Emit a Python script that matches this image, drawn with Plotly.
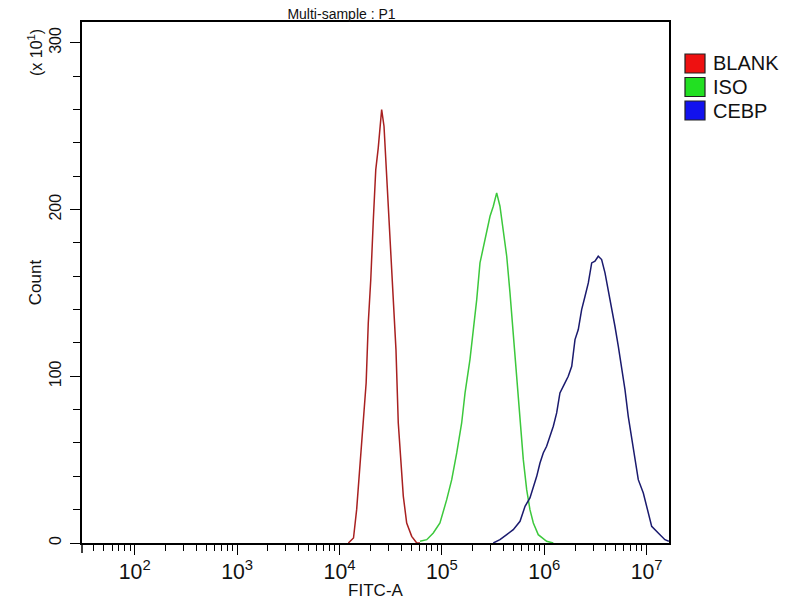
import plotly.graph_objects as go

# ---- data (FITC-A value, count in units of x10) ----
BLANK_X = [12200, 13700, 14700, 15900, 17100, 18200, 19100, 20200, 21400, 22600,
           23900, 24900, 25800, 27200, 28200, 30000, 31600, 33500, 35600, 37500,
           39600, 42000, 45300, 50700, 56800, 61100]
BLANK_COUNT = [0, 3, 20, 50, 72, 96, 132, 158, 194, 224,
               237, 250, 260, 250, 232, 202, 182, 148, 116, 72,
               48, 28, 12, 4, 0, 0]

ISO_X = [61100, 71100, 82400, 95700, 111400, 124700, 139600, 156000, 168300, 187900,
         202800, 218800, 235500, 263600, 295100, 317700, 342800, 369000, 398100, 429500,
         462400, 497700, 537000, 579400, 623700, 673000, 724400, 781600, 873000, 1054000,
         1225000]
ISO_COUNT = [1, 2, 6, 12, 26, 38, 54, 72, 90, 110,
             128, 146, 168, 182, 196, 202, 210, 202, 188, 172,
             150, 124, 100, 74, 50, 32, 20, 12, 5, 1,
             0]

CEBP_X = [317700, 369000, 429500, 497700, 579400, 648600, 724400, 781600, 843300, 907800,
          977200, 1054000, 1138000, 1225000, 1321000, 1422000, 1592000, 1714000, 1854000, 1995000,
          2148000, 2317000, 2500000, 2692000, 2904000, 3126000, 3365000, 3631000, 3917000, 4217000,
          4550000, 4898000, 5285000, 5702000, 6138000, 6607000, 7145000, 7691000, 8279000, 9268000,
          10000000, 11190000, 12970000, 15070000, 16480000]
CEBP_COUNT = [0, 2, 5, 8, 13, 22, 27, 33, 40, 48,
              54, 58, 64, 70, 78, 90, 96, 100, 106, 122,
              128, 140, 148, 156, 168, 169, 172, 170, 162, 152,
              140, 130, 118, 106, 92, 76, 62, 50, 38, 30,
              22, 10, 6, 2, 1]

SERIES = ["BLANK", "ISO", "CEBP"]
LINE_COLORS = ["#a82020", "#3cc83c", "#1a1a6e"]
SWATCH_COLORS = ["#ee1111", "#22e022", "#1212ee"]

FONT = "Liberation Sans, Arial, sans-serif"

fig = go.Figure()
for name, xs, ys, col in zip(SERIES, [BLANK_X, ISO_X, CEBP_X],
                             [BLANK_COUNT, ISO_COUNT, CEBP_COUNT], LINE_COLORS):
    fig.add_trace(go.Scatter(x=xs, y=ys, mode="lines", name=name,
                             line=dict(color=col, width=1.5), showlegend=False))

# the page body adds an 8 px offset; figure coordinates = page coordinates - 8
OFF = 8
W, H = 800 - OFF, 600 - OFF
L, R, T, B = 82 - OFF, W - (669 - OFF), 22 - OFF, H - (543 - OFF)
pw, ph = W - L - R, H - T - B


def px_x(page_x):
    return (page_x - OFF - L) / pw


def px_y(page_y):
    return (H - B - (page_y - OFF)) / ph


fig.update_layout(
    width=W, height=H,
    margin=dict(l=L, r=R, t=T, b=B, autoexpand=False),
    paper_bgcolor="white", plot_bgcolor="white",
    font=dict(family=FONT, color="#111111", size=16),
    title=dict(text="Multi-sample : P1", x=(341.5 - OFF) / W, xanchor="center",
               y=1.0 - 1.5 / H, yanchor="top", xref="container", yref="container",
               pad=dict(t=0, b=0, l=0, r=0),
               font=dict(size=14, family=FONT, color="#111111")),
)

fig.update_xaxes(
    type="log", range=[1.485, 7.218], automargin=False,
    showgrid=False, zeroline=False,
    showline=True, linecolor="black", linewidth=1.5, mirror=True,
    ticks="outside", ticklen=10, tickwidth=1.3, tickcolor="black",
    dtick=1, exponentformat="power", showexponent="all",
    tickfont=dict(size=17, family=FONT, color="#111111"),
    minor=dict(ticks="outside", ticklen=6, tickwidth=1.2, tickcolor="black",
               dtick="D1", showgrid=False),
    title=dict(text="FITC-A", font=dict(size=17, family=FONT, color="#111111"), standoff=6),
)

fig.update_yaxes(
    range=[0, 312.5], automargin=False,
    showgrid=False, zeroline=False,
    showline=True, linecolor="black", linewidth=1.5, mirror=True,
    ticks="outside", ticklen=10, tickwidth=1.3, tickcolor="black",
    dtick=100, tick0=0, tickangle=-90, ticklabelstandoff=3,
    tickfont=dict(size=16, family=FONT, color="#111111"),
    minor=dict(ticks="outside", ticklen=7, tickwidth=1.2, tickcolor="black",
               dtick=20, showgrid=False),
    title=dict(text="Count", font=dict(size=17, family=FONT, color="#111111"), standoff=1),
)

# y-axis line extending below the x axis
fig.add_shape(type="line", xref="paper", yref="paper", x0=0, x1=0, y0=0, y1=-10 / ph,
              line=dict(color="black", width=1.5))

# "(x 10^1)" multiplier label
fig.add_annotation(text="(x 10<sup>1</sup>)", xref="paper", yref="paper",
                   x=px_x(35), y=px_y(52), textangle=-90,
                   showarrow=False, xanchor="center", yanchor="middle",
                   font=dict(size=16, family=FONT, color="#111111"))

# legend drawn as swatches + labels
for i, (name, col) in enumerate(zip(SERIES, SWATCH_COLORS)):
    top = 54 + i * 23.5
    fig.add_shape(type="rect", xref="paper", yref="paper",
                  x0=px_x(685), x1=px_x(705),
                  y0=px_y(top), y1=px_y(top + 19),
                  fillcolor=col, line=dict(color="#222222", width=1.2))
    fig.add_annotation(text=name, xref="paper", yref="paper",
                       x=px_x(711), y=px_y(top + 9.5),
                       showarrow=False, xanchor="left", yanchor="middle",
                       font=dict(size=20, family=FONT, color="#111111"))

fig.write_html("out.html")
